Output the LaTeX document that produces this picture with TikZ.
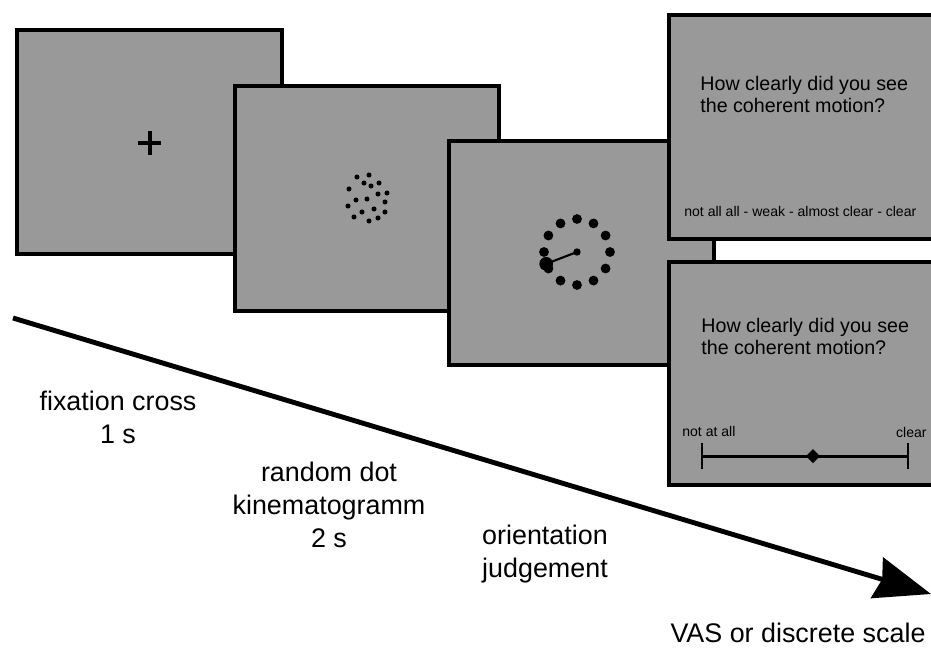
\documentclass[tikz,border=0pt]{standalone}
\usepackage{fontspec}
\setmainfont{Liberation Sans}
\usetikzlibrary{arrows.meta}
\definecolor{screengray}{RGB}{153,153,153}

\begin{document}
\begin{tikzpicture}[x=0.02cm,y=-0.02cm,
  screen/.style={draw=black,fill=screengray,line width=2.3pt},
  phase/.style={align=center,anchor=base,font=\fontsize{15.3}{18.7}\selectfont},
  question/.style={align=left,anchor=base west,inner sep=0pt,font=\fontsize{11.2}{12.5}\selectfont},
  scaletext/.style={anchor=base west,inner sep=0pt,font=\fontsize{8}{9.6}\selectfont}]
\path [use as bounding box,clip] (0,0) rectangle (931,647);
\coordinate (t0) at (13,318);
\coordinate (t1) at (931,594);
\draw [line width=2.8pt,-{Stealth[length=32pt,width=24pt,inset=3pt]}] (t0) -- (t1);
% fixation cross
\draw [screen] (17,30) rectangle (282,254);
\draw [line width=2.3pt] (138,143) -- (161,143);
\draw [line width=2.3pt] (150,131) -- (150,155);
% random dots
\draw [screen] (235,86) rectangle (499,311);
\foreach \p in {(357,177),(369,175),(364,183),(371,186),(379,183),(349,189),
  (378,194),(387,193),(356,200),(367,199),(385,202),(348,206),(362,212),
  (374,209),(385,212),(354,217),(369,221),(378,218)}
  \fill \p circle (1.45pt);
% orientation judgement
\draw [screen] (449,141) rectangle (714,365);
\coordinate (ctr) at (577,252);
\foreach \a in {0,30,...,330}
  \fill (ctr) ++(\a:33) circle (2.8pt);
\path (ctr) ++(159:33) coordinate (pick);
\draw [line width=1.2pt] (ctr) -- (pick);
\fill (ctr) circle (2.1pt);
\fill (pick) circle (3.9pt);
% discrete scale
\draw [screen] (669,15) rectangle (945,239);
\node [question] (q1) at (700,112) {How clearly did you see\\the coherent motion?};
\node [scaletext] (d1) at (684,216) {not all all - weak - almost clear - clear};
% VAS
\draw [screen] (669,262) rectangle (945,485);
\node [question] (q2) at (701,354) {How clearly did you see\\the coherent motion?};
\node [scaletext] (lo) at (682,436) {not at all};
\node [scaletext,anchor=base east] (hi) at (927,437) {clear};
\coordinate (vl) at (702,456);
\coordinate (vr) at (908,456);
\draw [line width=1.7pt] (vl) -- (vr);
\draw [line width=1.7pt] (702,443) -- (702,469);
\draw [line width=1.7pt] (908,443) -- (908,469);
\fill (813,449) -- (820,456) -- (813,463) -- (806,456) -- cycle;
% phases
\node [phase] (fix) at (118,443) {fixation cross\\1 s};
\node [phase] (rdk) at (329,547) {random dot\\kinematogramm\\2 s};
\node [phase] (ori) at (545,577) {orientation\\judgement};
\node [phase] (vas) at (798,642) {VAS or discrete scale};
\end{tikzpicture}
\end{document}
